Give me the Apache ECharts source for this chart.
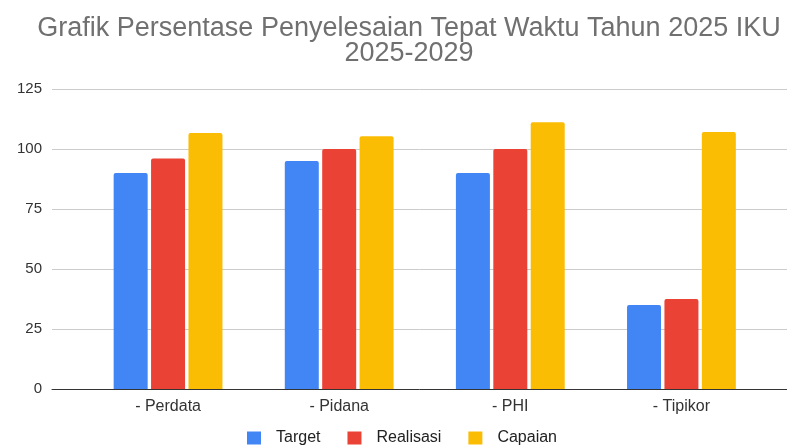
<!DOCTYPE html>
<html lang="id">
<head>
    <meta charset="UTF-8">
    <title>Grafik Persentase Penyelesaian Tepat Waktu</title>
    <script src="https://cdn.jsdelivr.net/npm/echarts@6/dist/echarts.min.js"></script>
    <style>
        html, body { margin: 0; padding: 0; background: #fff; }
        #container { width: 787px; height: 446px; }
    </style>
</head>
<body>
<div id="container"></div>
<script type="text/javascript">
var categories = ['- Perdata', '- Pidana', '- PHI', '- Tipikor'];
var target = [90, 95, 90, 35];
var realisasi = [96, 100, 100, 37.5];
var capaian = [106.7, 105.3, 111.1, 107.1];
var yTicks = [0, 25, 50, 75, 100, 125];

var fontFam = '"Liberation Sans", Arial, sans-serif';
var dom = document.getElementById('container');
var myChart = echarts.init(dom, null, {renderer: 'canvas'});

// grid 0: full width, only for the gridlines and the baseline
// grid 1: narrower, holds the bars (so the categories sit inset like the original)
var option = {
    backgroundColor: '#fff',
    color: ['#4285F4', '#EA4335', '#FBBC04'],
    title: {
        text: 'Grafik Persentase Penyelesaian Tepat Waktu Tahun 2025 IKU\n2025-2029',
        left: 404,
        textAlign: 'center',
        top: 11,
        textStyle: {
            fontFamily: fontFam,
            fontSize: 27,
            fontWeight: 'normal',
            color: '#707070',
            lineHeight: 25
        }
    },
    legend: {
        data: ['Target', 'Realisasi', 'Capaian'],
        left: 242,
        top: 425,
        icon: 'rect',
        itemWidth: 14,
        itemHeight: 13,
        itemGap: 27,
        textStyle: {
            fontFamily: fontFam,
            fontSize: 16,
            color: '#222',
            padding: [0, 0, 0, 10]
        }
    },
    grid: [
        {left: 52, right: 0, top: 89, bottom: 57},
        {left: 82.5, right: 20, top: 89, bottom: 57}
    ],
    xAxis: [
        {
            type: 'value',
            gridIndex: 0,
            min: 0,
            max: 1,
            axisLine: {show: true, lineStyle: {color: '#333', width: 1}},
            axisTick: {show: false},
            axisLabel: {show: false},
            splitLine: {show: false}
        },
        {
            type: 'category',
            gridIndex: 1,
            data: categories,
            axisLine: {show: false},
            axisTick: {show: false},
            axisLabel: {
                margin: 10,
                fontFamily: fontFam,
                fontSize: 16,
                color: '#333'
            }
        }
    ],
    yAxis: [
        {
            type: 'value',
            gridIndex: 0,
            min: yTicks[0],
            max: yTicks[yTicks.length - 1],
            interval: 25,
            axisLine: {show: false},
            axisTick: {show: false},
            axisLabel: {
                margin: 10,
                fontFamily: fontFam,
                fontSize: 15,
                color: '#333'
            },
            splitLine: {lineStyle: {color: '#cccccc', width: 1}}
        },
        {
            type: 'value',
            gridIndex: 1,
            min: yTicks[0],
            max: yTicks[yTicks.length - 1],
            interval: 25,
            show: false,
            splitLine: {show: false}
        }
    ],
    series: [
        {
            name: 'Target',
            type: 'bar',
            xAxisIndex: 1,
            yAxisIndex: 1,
            barWidth: 34,
            barGap: '10%',
            itemStyle: {borderRadius: [2, 2, 0, 0]},
            data: target
        },
        {
            name: 'Realisasi',
            type: 'bar',
            xAxisIndex: 1,
            yAxisIndex: 1,
            barWidth: 34,
            barGap: '10%',
            itemStyle: {borderRadius: [2, 2, 0, 0]},
            data: realisasi
        },
        {
            name: 'Capaian',
            type: 'bar',
            xAxisIndex: 1,
            yAxisIndex: 1,
            barWidth: 34,
            barGap: '10%',
            itemStyle: {borderRadius: [2, 2, 0, 0]},
            data: capaian
        }
    ]
};
myChart.setOption(option, true);
</script>
</body>
</html>
